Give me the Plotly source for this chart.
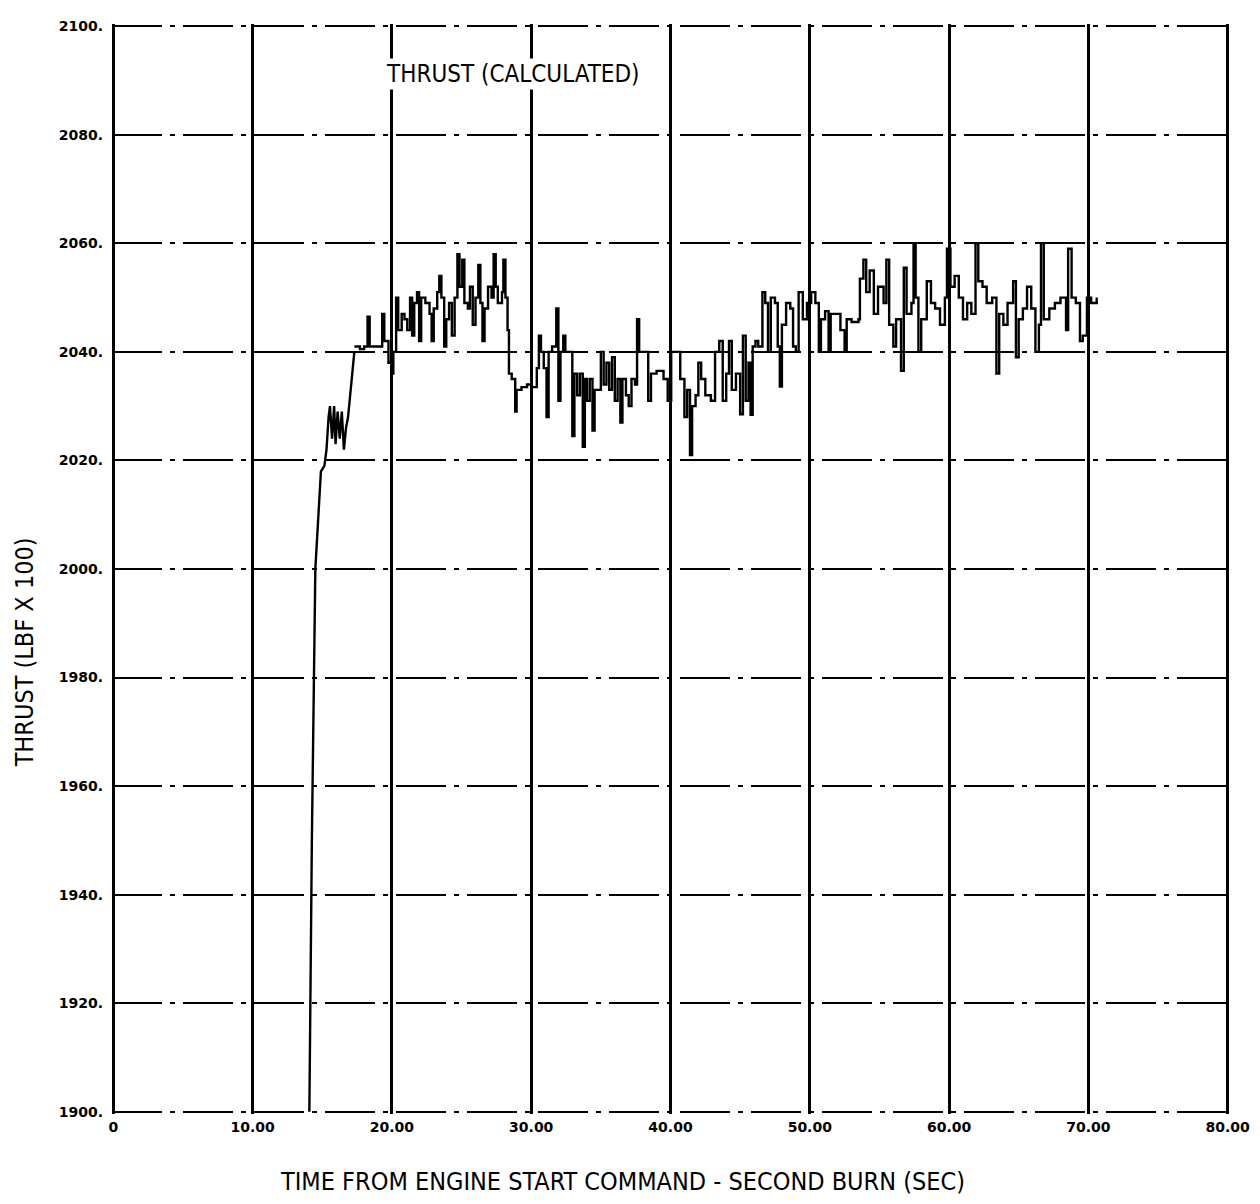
import plotly.graph_objects as go

# ---- data ----
RISE_T = [14.07, 14.25, 14.5, 14.7, 14.9, 15.15, 15.3, 15.45, 15.55, 15.7, 15.85, 15.95,
          16.1, 16.25, 16.4, 16.55, 16.7, 16.85, 17.0, 17.15, 17.3]
RISE_Y = [1900, 1950, 2000, 2010, 2018, 2019, 2022, 2028, 2030, 2024, 2030, 2023,
          2029, 2024, 2029, 2022, 2026, 2028, 2032, 2037, 2040]

THRUST_T = [17.3, 17.7, 18.0, 18.25, 18.4, 18.9, 19.3, 19.45, 19.75, 19.95, 20.1, 20.3, 20.45, 20.7,
            20.9, 21.1, 21.3, 21.45, 21.6, 21.8, 21.95, 22.1, 22.4, 22.7, 22.85, 23.0, 23.25, 23.4,
            23.55, 23.75, 23.9, 24.1, 24.3, 24.5, 24.7, 24.85, 25.05, 25.2, 25.45, 25.6, 25.8, 26.0,
            26.2, 26.35, 26.5, 26.65, 26.9, 27.15, 27.3, 27.45, 27.6, 27.9, 28.0, 28.15, 28.3, 28.4,
            28.6, 28.85, 28.95, 29.3, 29.7, 30.0, 30.4, 30.55, 30.7, 30.9, 31.1, 31.25, 31.5, 31.8,
            31.95, 32.1, 32.3, 32.45, 32.7, 32.95, 33.1, 33.3, 33.5, 33.7, 33.85, 34.0, 34.2, 34.4,
            34.55, 34.8, 35.0, 35.2, 35.4, 35.6, 35.8, 36.0, 36.2, 36.4, 36.55, 36.8, 37.0, 37.2,
            37.45, 37.6, 37.75, 38.4, 38.6, 39.0, 39.5, 39.8, 40.05, 40.4, 40.7, 41.0, 41.2, 41.4,
            41.55, 41.8, 42.0, 42.2, 42.5, 42.9, 43.2, 43.5, 43.75, 44.0, 44.2, 44.4, 44.7, 45.0,
            45.2, 45.4, 45.6, 45.75, 45.9, 46.1, 46.3, 46.6, 46.8, 47.0, 47.2, 47.5, 47.7, 47.85,
            48.0, 48.3, 48.6, 48.8, 49.0, 49.2, 49.5, 49.8, 50.1, 50.4, 50.65, 50.8, 51.1, 51.35,
            51.5, 51.9, 52.2, 52.5, 52.65, 53.0, 53.5, 53.6, 53.85, 54.05, 54.3, 54.6, 54.9, 55.3,
            55.5, 55.7, 56.0, 56.2, 56.55, 56.75, 56.95, 57.3, 57.45, 57.6, 57.8, 58.0, 58.4, 58.7,
            59.0, 59.35, 59.7, 59.85, 60.1, 60.4, 60.7, 61.0, 61.3, 61.6, 61.9, 62.1, 62.4, 62.7,
            63.1, 63.4, 63.6, 63.9, 64.2, 64.6, 64.8, 65.0, 65.3, 65.6, 65.9, 66.2, 66.45, 66.6,
            66.8, 67.2, 67.6, 68.0, 68.4, 68.55, 68.8, 69.1, 69.4, 69.6, 69.9, 70.2, 70.6]
THRUST_Y = [2041, 2040.5, 2041, 2046.5, 2041, 2041, 2047, 2042, 2038, 2036, 2040, 2050, 2044, 2047,
            2046, 2044, 2050, 2043, 2049, 2051, 2042, 2050, 2049, 2047, 2042, 2048, 2051, 2054,
            2050, 2041, 2046, 2049, 2043, 2050, 2058, 2052, 2057, 2049, 2048, 2052, 2045, 2050,
            2056, 2049, 2042, 2048, 2052, 2050, 2058, 2052, 2049, 2051, 2057, 2050, 2044, 2036,
            2035, 2029, 2033, 2033.5, 2034, 2033.5, 2037, 2043, 2040, 2037, 2028, 2040, 2041, 2048,
            2031, 2040, 2043, 2040, 2040, 2024.5, 2036, 2032, 2036, 2022.5, 2035, 2031, 2035, 2025.5,
            2033, 2033, 2040, 2034, 2038, 2033, 2039, 2031, 2035, 2027, 2035, 2032, 2030, 2035,
            2034, 2046, 2040, 2031, 2036, 2036.5, 2035, 2031, 2040, 2040, 2035, 2028, 2033, 2021,
            2030, 2032, 2038, 2035, 2032, 2031, 2040, 2042, 2031, 2036, 2042, 2033, 2036, 2028.5,
            2043, 2031, 2038, 2028.4, 2041, 2042, 2041, 2051, 2049, 2040, 2050, 2049, 2041, 2033.6,
            2045, 2049, 2048, 2041, 2040, 2051, 2046, 2049, 2051, 2049, 2040, 2046, 2047.5, 2040,
            2047, 2047, 2044, 2040, 2046, 2045.5, 2046, 2053.5, 2057, 2051, 2055, 2047, 2052, 2049,
            2057, 2045, 2041, 2046, 2036.5, 2055.5, 2047, 2049, 2060, 2050, 2040, 2046, 2053, 2049,
            2048, 2045, 2050, 2059, 2052, 2054, 2050, 2046, 2049, 2047, 2060, 2053, 2052, 2049,
            2050, 2036, 2047, 2045, 2049, 2053, 2039, 2046, 2048, 2052, 2048, 2040, 2045, 2060,
            2046, 2048, 2049, 2050, 2044, 2059, 2050, 2049, 2042, 2043, 2050, 2049, 2050]

X_TICKS = [0, 10, 20, 30, 40, 50, 60, 70, 80]
X_TICK_LABELS = ["0", "10.00", "20.00", "30.00", "40.00", "50.00", "60.00", "70.00", "80.00"]
Y_TICKS = [1900, 1920, 1940, 1960, 1980, 2000, 2020, 2040, 2060, 2080, 2100]
Y_TICK_LABELS = [f"{v}." for v in Y_TICKS]

TITLE = "THRUST (CALCULATED)"
X_TITLE = "TIME FROM ENGINE START COMMAND - SECOND BURN (SEC)"
Y_TITLE = "THRUST (LBF X 100)"

TXT_FONT = "DejaVu Sans Condensed, Liberation Sans Narrow, DejaVu Sans, sans-serif"
TICK_FONT = dict(family="DejaVu Sans", size=14, color="black", weight="bold")

fig = go.Figure()
fig.add_trace(go.Scatter(x=RISE_T, y=RISE_Y, mode="lines",
                         line=dict(color="black", width=2.4), showlegend=False))
fig.add_trace(go.Scatter(x=THRUST_T, y=THRUST_Y, mode="lines",
                         line=dict(color="black", width=2.4, shape="hv"), showlegend=False))

# page body has an 8px margin, so the figure is sized/placed to compensate
fig.update_layout(
    width=1252, height=1196,
    margin=dict(l=104, r=26, t=10, b=90),
    paper_bgcolor="white", plot_bgcolor="white",
    showlegend=False,
    xaxis=dict(range=[-0.1, 80.1], tickmode="array", tickvals=X_TICKS, ticktext=X_TICK_LABELS,
               showgrid=True, gridcolor="black", gridwidth=3, zeroline=False, showline=False,
               ticks="", ticklabelstandoff=3, tickfont=TICK_FONT),
    yaxis=dict(range=[1899.6, 2100.4], tickmode="array", tickvals=Y_TICKS, ticktext=Y_TICK_LABELS,
               showgrid=True, gridcolor="black", gridwidth=2, griddash="50px,8px,5px,8px",
               zeroline=False, showline=False, ticks="", ticklabelstandoff=8, tickfont=TICK_FONT),
)

fig.add_annotation(text=TITLE, xref="paper", yref="paper", x=0.3588, y=0.9542,
                   xanchor="center", yanchor="middle", showarrow=False, bgcolor="white",
                   font=dict(family=TXT_FONT, size=24, color="black"))
fig.add_annotation(text=X_TITLE, xref="paper", yref="paper", x=0.4573, y=-0.0618,
                   xanchor="center", yanchor="middle", showarrow=False,
                   font=dict(family=TXT_FONT, size=25, color="black"))
fig.add_annotation(text=Y_TITLE, xref="paper", yref="paper", x=-0.0780, y=0.4234,
                   xanchor="center", yanchor="middle", showarrow=False, textangle=-90,
                   font=dict(family=TXT_FONT, size=25, color="black"))

fig.write_html("out.html")
